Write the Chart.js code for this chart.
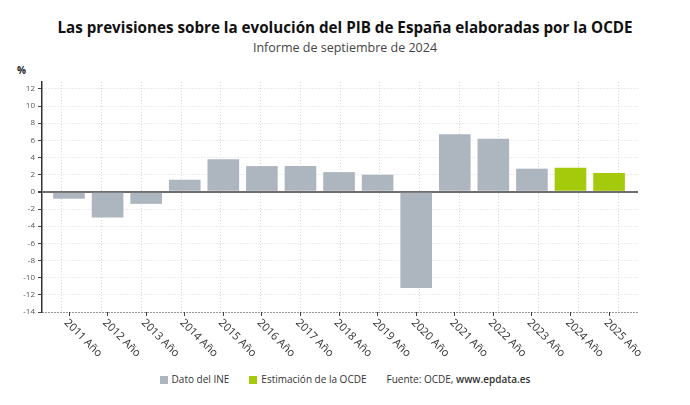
<!DOCTYPE html>
<html><head><meta charset="utf-8">
<script src="https://cdn.jsdelivr.net/npm/chart.js@4.4.1/dist/chart.umd.min.js"></script>
<style>
html,body{margin:0;padding:0;background:#fff;width:690px;height:405px;overflow:hidden;font-family:"Open Sans",sans-serif;}
#title{position:absolute;left:0;width:690px;top:17px;text-align:center;font-size:15.2px;font-weight:bold;color:#111;}
#sub{position:absolute;left:0;width:690px;top:39px;text-align:center;font-size:12.5px;color:#444;}
#unit{position:absolute;left:17px;top:63px;font-size:10px;font-weight:bold;color:#222;}
#wrap{position:absolute;left:0;top:60px;width:690px;height:305px;}
#legend{position:absolute;left:0;width:690px;top:372px;text-align:center;font-size:10px;color:#333;}
#legend span.item{margin:0 10px;}
#legend i{display:inline-block;width:8px;height:8px;margin-right:4px;vertical-align:-0.5px;}
</style></head><body>
<div id="title">Las previsiones sobre la evolución del PIB de España elaboradas por la OCDE</div>
<div id="sub">Informe de septiembre de 2024</div>
<div id="unit">%</div>
<div id="wrap"><canvas id="c"></canvas></div>
<div id="legend"></div>
<script>
const categories = ["2011 Año","2012 Año","2013 Año","2014 Año","2015 Año","2016 Año","2017 Año","2018 Año","2019 Año","2020 Año","2021 Año","2022 Año","2023 Año","2024 Año","2025 Año"];
const datoINE = [-0.8,-3.0,-1.4,1.4,3.8,3.0,3.0,2.3,2.0,-11.2,6.7,6.2,2.7,null,null];
const estimacionOCDE = [null,null,null,null,null,null,null,null,null,null,null,null,null,2.8,2.2];
const yTicks = [-14,-12,-10,-8,-6,-4,-2,0,2,4,6,8,10,12];
const seriesLabels = ["Dato del INE","Estimación de la OCDE"];
const seriesColors = ["#adb5be","#a5c90b"];
const sourceText = "Fuente: OCDE, ";
const sourceBold = "www.epdata.es";

const leg = document.getElementById('legend');
leg.innerHTML = seriesLabels.map((l,i)=>'<span class="item"><i style="background:'+seriesColors[i]+'"></i>'+l+'</span>').join('') +
  '<span class="item">'+sourceText+'<b style="font-weight:600">'+sourceBold+'</b></span>';

const toPoints = arr => arr.map((v,i)=>v===null?null:{x:i,y:v}).filter(p=>p!==null);

const xLabelPlugin = {
  id:'xLabels',
  afterDraw(chart){
    const ctx = chart.ctx, xs = chart.scales.xb, y = chart.chartArea.bottom;
    ctx.save();
    ctx.font = '11px "Open Sans"';
    ctx.fillStyle = '#333';
    ctx.textAlign = 'left';
    ctx.textBaseline = 'middle';
    categories.forEach((lab,i)=>{
      const x = xs.getPixelForValue(i);
      ctx.save();
      ctx.translate(x-3, y+9);
      ctx.rotate(Math.PI/4);
      ctx.fillText(lab,0,0);
      ctx.restore();
    });
    ctx.restore();
  }
};

new Chart(document.getElementById('c'), {
  type:'bar',
  data:{
    labels:categories,
    datasets:[
      {label:seriesLabels[0],data:toPoints(datoINE),backgroundColor:seriesColors[0],xAxisID:'xb',stack:'s'},
      {label:seriesLabels[1],data:toPoints(estimacionOCDE),backgroundColor:seriesColors[1],xAxisID:'xb',stack:'s'}
    ]
  },
  options:{
    responsive:true,maintainAspectRatio:false,animation:false,
    datasets:{bar:{categoryPercentage:1,barPercentage:0.82}},
    layout:{padding:{left:0,right:52,top:22,bottom:0}},
    plugins:{legend:{display:false},tooltip:{enabled:false}},
    scales:{
      x:{
        type:'category',
        position:'bottom',
        offset:true,
        grid:{color:'#d8d8d8',offset:false,drawTicks:false},
        border:{display:false,dash:[1,2]},
        ticks:{display:false},
        afterFit(s){s.height=0;}
      },
      xb:{
        type:'linear',
        position:'bottom',
        offset:false,
        min:-0.7,max:14.75,
        afterBuildTicks(s){s.ticks=categories.map((c,i)=>({value:i}));},
        grid:{drawOnChartArea:false,drawTicks:true,tickLength:4,tickColor:'#444',offset:false},
        border:{display:false},
        ticks:{display:false},
        afterFit(s){s.height=53;}
      },
      y:{
        stacked:true,
        min:-14,max:12.8,
        afterBuildTicks(s){s.ticks=yTicks.map(v=>({value:v}));},
        ticks:{font:{size:8,family:'"Open Sans"'},color:'#555',padding:3},
        grid:{
          color:c=>c.tick&&c.tick.value===0?'#6e6e6e':(c.tick&&c.tick.value===-14?'#333':'#d8d8d8'),
          lineWidth:c=>c.tick&&c.tick.value===0?2:1,
          tickLength:4,tickColor:'#444'
        },
        border:{display:true,color:'#333',width:1.5,dash:c=>(c.tick&&c.tick.value===0)?[]:[1,2]},
        afterFit(s){s.width=42;}
      }
    }
  },
  plugins:[xLabelPlugin]
});
</script>
</body></html>
